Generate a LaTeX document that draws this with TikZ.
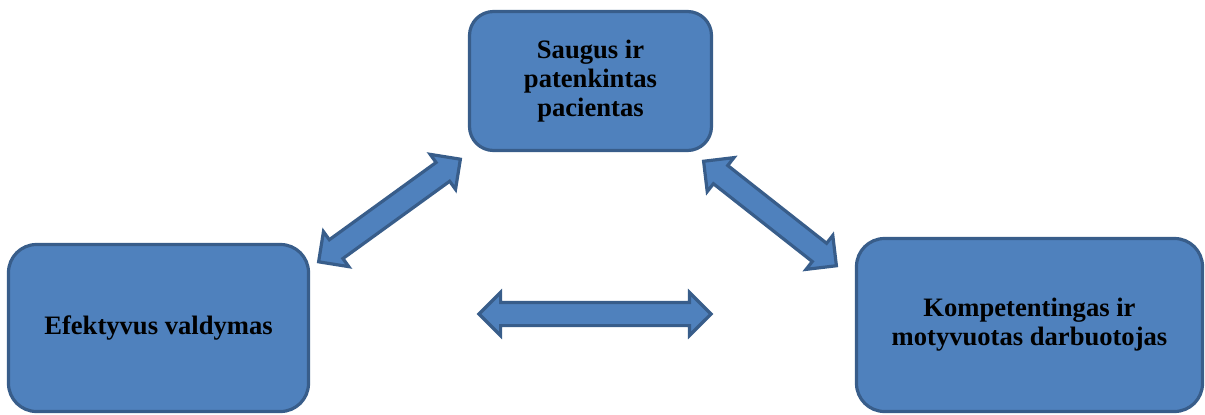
\documentclass[tikz,border=0pt]{standalone}
\usepackage{fontspec}
\setmainfont{Liberation Serif}
\usetikzlibrary{shapes.arrows}

\definecolor{boxfill}{RGB}{79,129,189}
\definecolor{boxline}{RGB}{56,93,138}

\begin{document}
\begin{tikzpicture}[x=0.5pt,y=0.5pt,
    box/.style={draw=boxline,fill=boxfill,line width=1.6pt,rounded corners=12pt,
      align=center,inner sep=0pt,font=\fontsize{13.3}{14.6}\selectfont\bfseries},
    dblarrow/.style={double arrow,draw=boxline,fill=boxfill,line width=1.6pt,
      minimum width=20pt,double arrow head extend=5pt,inner xsep=0pt,inner ysep=5pt}]

    \useasboundingbox (0,0) rectangle (1205,414);

    \node[box,minimum width=121pt,minimum height=69.5pt] (a) at (590.5,333)
        {Saugus ir\\patenkintas\\pacientas};
    \node[box,minimum width=150pt,minimum height=83.5pt,rounded corners=14pt] (b) at (158.5,86)
        {Efektyvus valdymas};
    \node[box,minimum width=173pt,minimum height=86.5pt,rounded corners=14pt] (c) at (1029.5,89)
        {Kompetentingas ir\\motyvuotas darbuotojas};

    \node[dblarrow,minimum height=87.5pt,rotate=35.9] (ab) at (389.5,203.5) {};
    \node[dblarrow,minimum height=84.5pt,rotate=-38.2] (ac) at (770,200.5) {};
    \node[dblarrow,minimum height=116pt] (bc) at (595,100) {};

\end{tikzpicture}
\end{document}
